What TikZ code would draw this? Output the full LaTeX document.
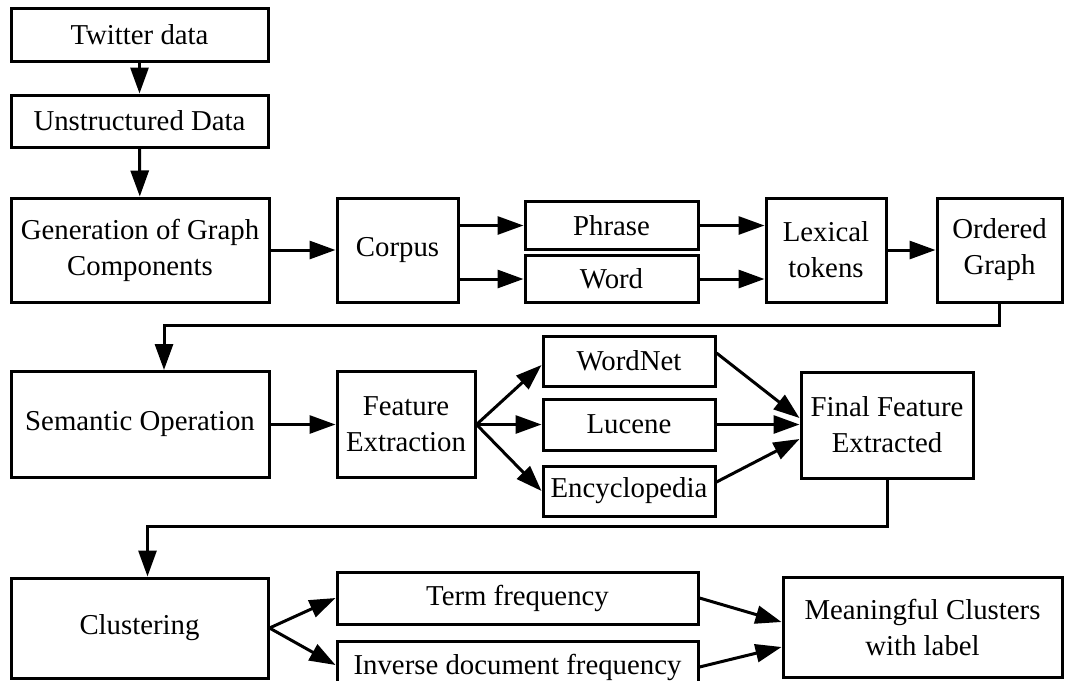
\documentclass[tikz,border=0pt]{standalone}
\usepackage{fontspec}
\setmainfont{Liberation Serif}
\usetikzlibrary{arrows.meta,calc}

\begin{document}
\begin{tikzpicture}[
  x=1pt, y=-1pt,
  font=\fontsize{28.8}{36}\selectfont,
  blk/.style={draw, line width=3pt, align=center, inner sep=0pt, minimum height=104pt},
  flujo/.style={-{Triangle[length=26pt,width=18pt]}, line width=3pt},
]
\useasboundingbox (0,0) rectangle (1067,680);

% ---- Entrada ----
\node[blk, minimum width=257pt, minimum height=53pt] (tw)   at (139.5,34.5) {Twitter data};
\node[blk, minimum width=257pt, minimum height=52pt] (unst) at (139.5,121)  {Unstructured Data};

% ---- Fila 1: grafo ----
\node[blk, minimum width=258pt] (gen)    at (140,250)   {Generation of Graph\\Components};
\node[blk, minimum width=121pt] (corpus) at (397.5,250) {Corpus};
\node[blk, minimum width=173pt, minimum height=48pt] (phrase) at (611.5,225.5) {Phrase};
\node[blk, minimum width=173pt, minimum height=47pt] (word)   at (611.5,279)   {Word};
\node[blk, minimum width=120pt] (lex) at (826,250)   {Lexical\\tokens};
\node[blk, minimum width=125pt] (ord) at (999.5,250) {Ordered\\Graph};

% ---- Fila 2: semantica ----
\node[blk, minimum width=258pt, minimum height=106pt] (sem)  at (140,424.5) {Semantic Operation};
\node[blk, minimum width=138pt, minimum height=106pt] (feat) at (406,424.5) {Feature\\Extraction};
\node[blk, minimum width=172pt, minimum height=50pt] (wn)  at (629,361)   {WordNet};
\node[blk, minimum width=172pt, minimum height=51pt] (luc) at (629,424.5) {Lucene};
\node[blk, minimum width=172pt, minimum height=50pt] (enc) at (629,491)   {Encyclopedia};
\node[blk, minimum width=172pt, minimum height=106pt] (fin) at (887,425) {Final Feature\\Extracted};

% ---- Fila 3: clusters ----
\node[blk, minimum width=257pt, minimum height=100pt] (clus) at (139.5,628) {Clustering};
\node[blk, minimum width=361pt, minimum height=52pt] (tf)  at (517.5,598) {Term frequency};
\node[blk, minimum width=361pt, minimum height=52pt] (idf) at (517.5,667) {Inverse document frequency};
\node[blk, minimum width=279pt, minimum height=100pt] (mcl) at (922.5,627) {Meaningful Clusters\\with label};

% ---- Flechas ----
\draw[flujo] (tw) -- (unst);
\draw[flujo] (unst) -- (gen);
\draw[flujo] (gen) -- (corpus);
\draw[flujo] (corpus.east |- phrase) -- (phrase);
\draw[flujo] (corpus.east |- word) -- (word);
\draw[flujo] (phrase) -- (phrase -| lex.west);
\draw[flujo] (word) -- (word -| lex.west);
\draw[flujo] (lex) -- (ord);
\draw[flujo] (ord.south) -- ++(0,22) -| ([xshift=24pt]sem.north);

\draw[flujo] (sem) -- (feat);
\draw[flujo] (feat.east) -- ([yshift=-4pt]wn.west);
\draw[flujo] (feat.east) -- (luc.west);
\draw[flujo] (feat.east) -- (enc.west);
\draw[flujo] ([yshift=8pt]wn.east) -- ([yshift=7pt]fin.west);
\draw[flujo] (luc.east) -- (luc.east -| fin.west);
\draw[flujo] ([yshift=9pt]enc.east) -- ([yshift=-14pt]fin.west);
\draw[flujo] (fin.south) -- ++(0,47) -| ([xshift=8pt]clus.north);

\draw[flujo] (clus.east) -- (tf.west);
\draw[flujo] (clus.east) -- ([yshift=2pt]idf.west);
\draw[flujo] (tf.east) -- ([yshift=5pt]mcl.west);
\draw[flujo] (idf.east) -- ([yshift=-20pt]mcl.west);

\end{tikzpicture}
\end{document}
